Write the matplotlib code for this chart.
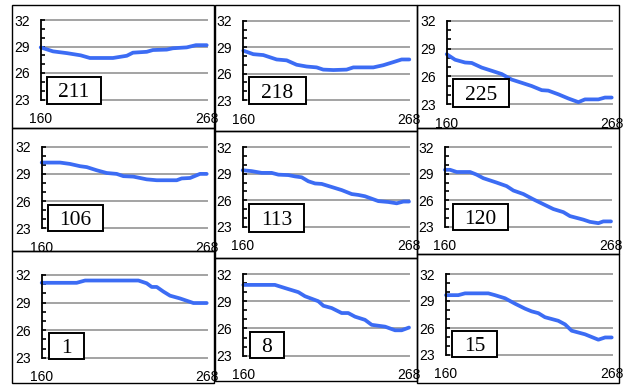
import matplotlib
matplotlib.use("Agg")
import matplotlib.pyplot as plt
from matplotlib.patches import Rectangle

# ---- data: day of year vs temperature for each station ----
station_ids = ["211", "218", "225", "106", "113", "120", "1", "8", "15"]

day_211 = [160, 168, 177, 186, 192, 207, 216, 220, 229, 233, 242, 246, 255, 261, 268]
temp_211 = [28.9, 28.45, 28.25, 28.0, 27.7, 27.7, 27.95, 28.3, 28.4, 28.6, 28.65, 28.8, 28.9, 29.15, 29.15]

day_218 = [160, 166.5, 173, 181.7, 188.2, 194.7, 201.2, 207.7, 212, 218.6, 227.2, 231.6, 244.6, 251.1, 257.6, 263, 268]
temp_218 = [28.6, 28.2, 28.1, 27.6, 27.5, 27.0, 26.8, 26.7, 26.45, 26.4, 26.45, 26.7, 26.7, 26.95, 27.3, 27.6, 27.6]

day_225 = [160, 165.5, 172, 176.4, 182.9, 189.5, 196, 202.5, 209.1, 215.6, 222.2, 226.5, 233.1, 239.6, 246.2, 250.5, 259.3, 263.6, 268]
temp_225 = [28.4, 27.8, 27.5, 27.45, 26.95, 26.6, 26.25, 25.65, 25.3, 24.95, 24.5, 24.45, 24.05, 23.6, 23.2, 23.5, 23.5, 23.7, 23.7]

day_106 = [160, 172, 178.5, 185.1, 189.5, 196, 202.5, 209.1, 213.5, 220, 228.7, 235.3, 248.4, 251.6, 257.1, 263.6, 268]
temp_106 = [30.25, 30.25, 30.1, 29.85, 29.75, 29.4, 29.1, 29.0, 28.75, 28.7, 28.4, 28.3, 28.3, 28.5, 28.55, 29.0, 29.0]

day_113 = [160, 165.8, 172.3, 178.8, 183.2, 189.7, 194, 198.3, 202.6, 207, 211.3, 217.8, 224.3, 230.8, 235.1, 239.4, 248.1, 254.6, 260, 264.3, 268]
temp_113 = [29.4, 29.3, 29.1, 29.1, 28.9, 28.85, 28.7, 28.6, 28.15, 27.9, 27.85, 27.5, 27.15, 26.7, 26.6, 26.45, 25.9, 25.8, 25.65, 25.85, 25.85]

day_120 = [160, 163.3, 167.6, 176.3, 180.6, 184.9, 193.6, 200.1, 204.5, 211, 217.5, 224, 230.5, 237, 241.3, 250, 254.3, 259.8, 263, 268]
temp_120 = [29.45, 29.45, 29.2, 29.2, 28.9, 28.5, 28.0, 27.6, 27.1, 26.7, 26.1, 25.55, 25.0, 24.65, 24.2, 23.8, 23.55, 23.4, 23.6, 23.6]

day_1 = [160, 182.9, 188.4, 223.3, 228.7, 232, 235.3, 239.6, 244, 250.5, 259.3, 268]
temp_1 = [31.15, 31.15, 31.4, 31.4, 31.1, 30.7, 30.7, 30.2, 29.75, 29.45, 28.95, 28.95]

day_8 = [160, 180.6, 187.2, 195.9, 200.2, 208.9, 212.2, 217.6, 224.1, 228.4, 232.8, 239.3, 243.7, 252.4, 258.9, 263.2, 268]
temp_8 = [30.8, 30.8, 30.45, 30.0, 29.55, 29.0, 28.5, 28.25, 27.7, 27.7, 27.3, 26.95, 26.4, 26.2, 25.8, 25.8, 26.1]

day_15 = [160, 168, 172.4, 187.6, 191.9, 198.5, 205, 211.5, 215.8, 220.2, 224.5, 233.2, 237.6, 241.9, 250.6, 259.3, 263.7, 268]
temp_15 = [29.65, 29.65, 29.85, 29.85, 29.65, 29.3, 28.7, 28.15, 27.85, 27.65, 27.2, 26.8, 26.4, 25.7, 25.3, 24.7, 24.95, 24.95]

series = [(day_211, temp_211), (day_218, temp_218), (day_225, temp_225),
          (day_106, temp_106), (day_113, temp_113), (day_120, temp_120),
          (day_1, temp_1), (day_8, temp_8), (day_15, temp_15)]

x_ticks = [160, 268]
y_major = [23, 26, 29, 32]
y_minor = [24, 25, 27, 28, 30, 31]

# ---- layout in pixels (x0, y0, x1, y1), origin at top-left ----
W, H = 623, 385
frames = [(12, 5, 214, 128), (215, 5, 417, 131), (417, 5, 619, 128),
          (12, 128, 214, 251), (215, 131, 417, 258), (417, 128, 619, 254),
          (12, 251, 214, 383), (215, 258, 417, 381), (417, 254, 619, 383)]
plots = [(40.7, 20, 206.7, 99.5), (243.3, 20.7, 409.3, 100), (446.7, 21, 611.7, 104),
         (41.7, 146.7, 206.7, 228.3), (242.7, 147.3, 409, 226.7), (445, 147.3, 611, 226.7),
         (41.7, 275, 206.7, 357.7), (243.3, 274, 409, 355.7), (446, 274, 611.7, 355)]
tags = [(46.7, 76.7, 100.7, 104), (249.3, 76.7, 305.7, 104.3), (453.3, 79, 509.3, 107.3),
        (47.7, 205, 103.3, 231), (249.3, 204, 304.3, 231.7), (452.7, 203.7, 508.3, 230.3),
        (49.3, 332.7, 84.3, 359), (250, 331.7, 284, 357.7), (452.3, 331, 496.7, 356.7)]

TICK_FONT = ["Liberation Sans Narrow", "Liberation Sans", "DejaVu Sans"]
TAG_FONT = ["Liberation Serif", "DejaVu Serif"]
LINE_BLUE = "#3c6cf4"
GRID_GRAY = "#a3a3a3"


def fig_rect(x0, y0, x1, y1):
    return [x0 / W, 1 - y1 / H, (x1 - x0) / W, (y1 - y0) / H]


fig = plt.figure(figsize=(W / 100, H / 100), dpi=100)
fig.patch.set_facecolor("white")

for (fx0, fy0, fx1, fy1) in frames:
    l, b, w, h = fig_rect(fx0, fy0, fx1, fy1)
    fig.add_artist(Rectangle((l, b), w, h, transform=fig.transFigure,
                             fill=False, edgecolor="black", linewidth=1.0, zorder=1))

for idx, (days, temps) in enumerate(series):
    ax = fig.add_axes(fig_rect(*plots[idx]))
    ax.patch.set_visible(False)
    ax.set_xlim(160, 268)
    ax.set_ylim(23, 32)
    for side in ("top", "right", "bottom"):
        ax.spines[side].set_visible(False)
    ax.spines["left"].set_linewidth(1.3)
    ax.spines["left"].set_zorder(4)

    ax.set_yticks(y_major)
    ax.set_yticks(y_minor, minor=True)
    ax.set_xticks(x_ticks)
    ax.tick_params(axis="y", which="both", direction="in", length=3, width=1.2,
                   pad=8, labelsize=10)
    ax.tick_params(axis="x", length=0, pad=9, labelsize=10)
    for lab in ax.get_xticklabels() + ax.get_yticklabels():
        lab.set_fontfamily(TICK_FONT)

    for v in y_major:
        ax.axhline(v, color=GRID_GRAY, linewidth=1.4, zorder=1, clip_on=False)

    ax.plot(days, temps, color=LINE_BLUE, linewidth=2.7, solid_capstyle="round",
            solid_joinstyle="round", zorder=3, clip_on=False)

    tx0, ty0, tx1, ty1 = tags[idx]
    l, b, w, h = fig_rect(tx0, ty0, tx1, ty1)
    fig.add_artist(Rectangle((l, b), w, h, transform=fig.transFigure,
                             facecolor="white", edgecolor="black", linewidth=1.4, zorder=5))
    fig.text(l + w / 2, b + h / 2, station_ids[idx], ha="center", va="center_baseline",
             fontsize=15.5, family=TAG_FONT, zorder=6)

fig.savefig("out.png", dpi=100, facecolor="white")
